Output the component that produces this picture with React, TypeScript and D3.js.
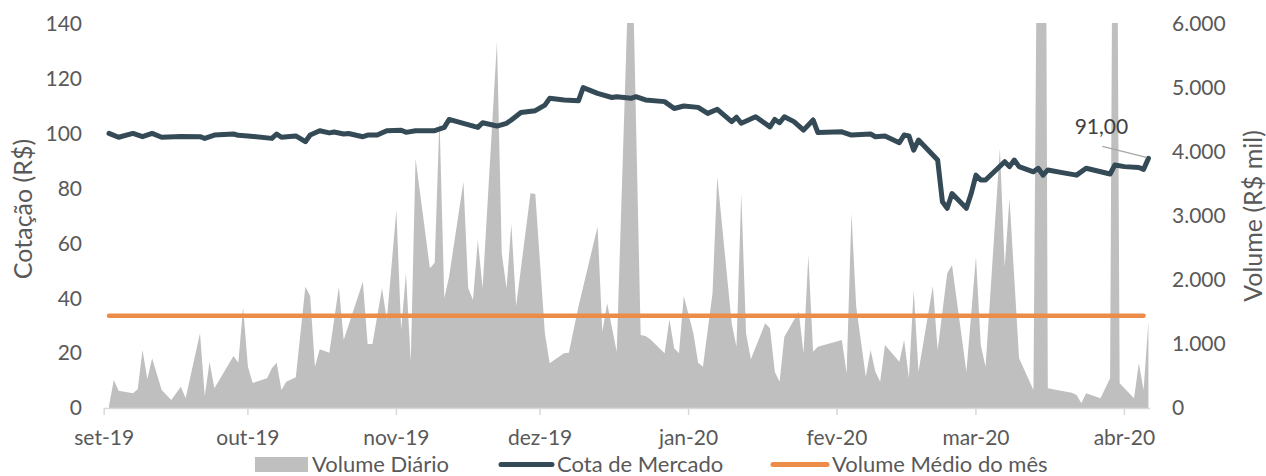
import * as d3 from "d3";

// Cota de Mercado (R$)
const priceDates = [
  "2019-09-02", "2019-09-04", "2019-09-07", "2019-09-09", "2019-09-11", "2019-09-13", "2019-09-17", "2019-09-21", "2019-09-22", "2019-09-24", "2019-09-28", "2019-09-29",
  "2019-10-01", "2019-10-06", "2019-10-07", "2019-10-08", "2019-10-11", "2019-10-13", "2019-10-14", "2019-10-16", "2019-10-18", "2019-10-19", "2019-10-21", "2019-10-22", "2019-10-25", "2019-10-26", "2019-10-28", "2019-10-30",
  "2019-11-02", "2019-11-03", "2019-11-05", "2019-11-09", "2019-11-11", "2019-11-12", "2019-11-15", "2019-11-18", "2019-11-19", "2019-11-22", "2019-11-24", "2019-11-25", "2019-11-27", "2019-11-30",
  "2019-12-02", "2019-12-03", "2019-12-06", "2019-12-09", "2019-12-10", "2019-12-13", "2019-12-16", "2019-12-17", "2019-12-20", "2019-12-21", "2019-12-23", "2019-12-27", "2019-12-29", "2019-12-31",
  "2020-01-03", "2020-01-05", "2020-01-07", "2020-01-10", "2020-01-11", "2020-01-12", "2020-01-15", "2020-01-18", "2020-01-19", "2020-01-20", "2020-01-21", "2020-01-23", "2020-01-25", "2020-01-27", "2020-01-28",
  "2020-02-02", "2020-02-04", "2020-02-08", "2020-02-09", "2020-02-11", "2020-02-14", "2020-02-15", "2020-02-16", "2020-02-17", "2020-02-18", "2020-02-22", "2020-02-23", "2020-02-24", "2020-02-25", "2020-02-28", "2020-02-29",
  "2020-03-01", "2020-03-02", "2020-03-03", "2020-03-07", "2020-03-08", "2020-03-09", "2020-03-10", "2020-03-13", "2020-03-14", "2020-03-15", "2020-03-16", "2020-03-19", "2020-03-22", "2020-03-24", "2020-03-29", "2020-03-30",
  "2020-04-01", "2020-04-04", "2020-04-05", "2020-04-06",
];
const priceValues = [
  100.1, 98.7, 100.1, 98.9, 100.1, 98.7, 99.0, 98.9, 98.3, 99.5, 99.9, 99.4,
  99.2, 98.3, 99.9, 98.7, 99.2, 97.1, 99.5, 101.1, 100.3, 100.6, 99.9, 100.1, 98.9, 99.5, 99.5, 101.1,
  101.3, 100.5, 101.1, 101.1, 102.3, 105.2, 103.8, 102.3, 104.0, 102.8, 103.8, 105.0, 107.7, 108.4,
  110.4, 112.9, 112.3, 112.0, 116.8, 114.7, 113.2, 113.5, 112.9, 113.5, 112.3, 111.7, 109.2, 110.1,
  109.6, 107.4, 108.9, 104.4, 106.0, 103.8, 106.2, 102.5, 105.2, 104.0, 106.2, 104.4, 101.3, 105.0, 100.4,
  100.7, 99.5, 99.9, 98.9, 99.2, 96.7, 99.5, 99.2, 94.0, 97.7, 90.4, 75.2, 72.8, 78.2, 72.8, 78.2,
  84.9, 83.1, 83.1, 89.8, 88.0, 90.4, 88.0, 86.1, 87.4, 84.9, 86.8, 85.8, 84.9, 87.4, 85.3, 88.6,
  88.0, 87.7, 87.0, 91.0,
];

// Volume Diário (R$ mil)
const volumeDates = [
  "2019-09-02", "2019-09-03", "2019-09-04", "2019-09-07", "2019-09-08", "2019-09-09", "2019-09-10", "2019-09-11", "2019-09-13", "2019-09-15", "2019-09-17", "2019-09-18", "2019-09-21", "2019-09-22", "2019-09-23", "2019-09-24", "2019-09-28", "2019-09-29", "2019-09-30",
  "2019-10-01", "2019-10-02", "2019-10-05", "2019-10-06", "2019-10-07", "2019-10-08", "2019-10-09", "2019-10-11", "2019-10-13", "2019-10-14", "2019-10-15", "2019-10-16", "2019-10-18", "2019-10-20", "2019-10-21", "2019-10-25", "2019-10-26", "2019-10-27", "2019-10-29", "2019-10-30",
  "2019-11-01", "2019-11-02", "2019-11-03", "2019-11-04", "2019-11-05", "2019-11-08", "2019-11-09", "2019-11-10", "2019-11-11", "2019-11-12", "2019-11-15", "2019-11-16", "2019-11-17", "2019-11-18", "2019-11-19", "2019-11-22", "2019-11-23", "2019-11-24", "2019-11-25", "2019-11-26", "2019-11-29", "2019-11-30",
  "2019-12-02", "2019-12-03", "2019-12-06", "2019-12-07", "2019-12-09", "2019-12-13", "2019-12-14", "2019-12-15", "2019-12-17", "2019-12-20", "2019-12-22", "2019-12-23", "2019-12-24", "2019-12-27", "2019-12-28", "2019-12-29", "2019-12-30", "2019-12-31",
  "2020-01-02", "2020-01-03", "2020-01-04", "2020-01-06", "2020-01-07", "2020-01-10", "2020-01-11", "2020-01-12", "2020-01-13", "2020-01-14", "2020-01-17", "2020-01-18", "2020-01-19", "2020-01-20", "2020-01-21", "2020-01-24", "2020-01-25", "2020-01-26", "2020-01-27", "2020-01-28",
  "2020-02-02", "2020-02-03", "2020-02-04", "2020-02-05", "2020-02-07", "2020-02-08", "2020-02-09", "2020-02-10", "2020-02-11", "2020-02-14", "2020-02-15", "2020-02-16", "2020-02-17", "2020-02-18", "2020-02-21", "2020-02-22", "2020-02-24", "2020-02-25", "2020-02-28",
  "2020-03-01", "2020-03-02", "2020-03-03", "2020-03-06", "2020-03-07", "2020-03-08", "2020-03-10", "2020-03-13", "2020-03-15", "2020-03-16", "2020-03-21", "2020-03-22", "2020-03-23", "2020-03-24", "2020-03-27", "2020-03-29", "2020-03-30", "2020-03-31",
  "2020-04-03", "2020-04-04", "2020-04-05", "2020-04-06",
];
const volumeValues = [
  30, 437, 270, 229, 292, 906, 448, 776, 281, 125, 333, 151, 1167, 187, 724, 307, 812, 708, 1573,
  650, 390, 464, 620, 708, 281, 411, 479, 1896, 1750, 646, 917, 865, 1896, 1062, 1974, 1000, 1000, 1870, 1375,
  3094, 1219, 2104, 724, 3900, 2182, 2271, 4526, 1713, 2052, 3536, 1870, 1687, 2625, 1870, 5724, 2417, 1870, 2875, 1594, 3354, 3343,
  1167, 698, 854, 865, 1583, 2833, 1193, 1635, 880, 8000, 1141, 1125, 1073, 854, 1385, 932, 854, 1750,
  1167, 708, 646, 1792, 3614, 1323, 958, 3354, 1167, 760, 1323, 1245, 568, 411, 1115, 1505, 854, 2391, 880, 958,
  1062, 542, 3041, 1583, 490, 906, 568, 411, 984, 724, 1062, 464, 1844, 568, 1906, 906, 2104, 2234, 568,
  2364, 984, 646, 4057, 2208, 3276, 776, 281, 20000, 307, 240, 203, 73, 229, 151, 463, 15000, 385,
  151, 698, 281, 1349,
];

// Volume Médio do mês (R$ mil)
const averageVolume = 1440;
const lastPriceLabel = "91,00";

const monthTicks = ["2019-09-01", "2019-10-01", "2019-11-01", "2019-12-01", "2020-01-01", "2020-02-01", "2020-03-01", "2020-04-01"];
const monthLabels = ["set-19", "out-19", "nov-19", "dez-19", "jan-20", "fev-20", "mar-20", "abr-20"];
const priceTicks = [0, 20, 40, 60, 80, 100, 120, 140];
const volumeTicks = [0, 1000, 2000, 3000, 4000, 5000, 6000];

const legendItems = ["Volume Diário", "Cota de Mercado", "Volume Médio do mês"];

const W = 1266;
const H = 476;
const FONT = "Lato, 'Open Sans', sans-serif";
const TXT = "#595959";
const GRAY = "#BFBFBF";
const DARK = "#344A56";
const ORANGE = "#ED8B48";

const parse = d3.utcParse("%Y-%m-%d");

export default function App() {
  const x = d3
    .scaleUtc()
    .domain([parse("2019-09-01")!, parse("2020-04-06")!])
    .range([104.2, 1148.4]);
  const yLeft = d3.scaleLinear().domain([0, 140]).range([408, 24]);
  const yRight = d3.scaleLinear().domain([0, 6000]).range([408, 24]);

  const price = priceDates.map((d, i) => ({ date: parse(d)!, value: priceValues[i] }));
  const volume = volumeDates.map((d, i) => ({ date: parse(d)!, value: volumeValues[i] }));

  const area = d3
    .area<{ date: Date; value: number }>()
    .x(d => x(d.date))
    .y0(yRight(0))
    .y1(d => yRight(d.value));

  const line = d3
    .line<{ date: Date; value: number }>()
    .x(d => x(d.date))
    .y(d => yLeft(d.value));

  const fmtVol = (v: number) => d3.format(",")(v).replace(/,/g, ".");

  const last = price[price.length - 1];
  const lx = x(last.date);
  const ly = yLeft(last.value);

  const avgStart = x(price[0].date);
  const avgEnd = x(price[price.length - 2].date);

  return (
    <svg width={W} height={H} style={{ position: "absolute", left: 0, top: 0, background: "#fff" }} fontFamily={FONT}>
      <defs>
        <clipPath id="plot">
          <rect x={100} y={23} width={1060} height={386} />
        </clipPath>
      </defs>

      {/* volume area */}
      <path d={area(volume) ?? ""} fill={GRAY} clipPath="url(#plot)" />

      {/* x axis */}
      <line x1={104} x2={1150} y1={408.5} y2={408.5} stroke="#D9D9D9" strokeWidth={1.5} />
      {monthTicks.map((t, i) => {
        const xx = x(parse(t)!);
        return (
          <g key={t}>
            <line x1={xx} x2={xx} y1={408} y2={415} stroke="#D9D9D9" strokeWidth={1.5} />
            <text x={xx} y={445} textAnchor="middle" fontSize={21} fill={TXT}>
              {monthLabels[i]}
            </text>
          </g>
        );
      })}

      {/* average volume */}
      <line
        x1={avgStart}
        x2={avgEnd}
        y1={yRight(averageVolume)}
        y2={yRight(averageVolume)}
        stroke={ORANGE}
        strokeWidth={4.5}
        strokeLinecap="round"
      />

      {/* price line */}
      <path
        d={line(price) ?? ""}
        fill="none"
        stroke={DARK}
        strokeWidth={5}
        strokeLinejoin="round"
        strokeLinecap="round"
      />

      {/* last value label */}
      <line x1={lx - 46} y1={ly - 12} x2={lx - 2} y2={ly - 1} stroke="#A6A6A6" strokeWidth={1.2} />
      <text x={lx - 47} y={ly - 24} textAnchor="middle" fontSize={21} fill="#404040">
        {lastPriceLabel}
      </text>

      {/* left axis */}
      {priceTicks.map(t => (
        <text key={t} x={82} y={yLeft(t)} dy="0.35em" textAnchor="end" fontSize={21} fill={TXT}>
          {t}
        </text>
      ))}
      <text
        transform={`translate(23, 209) rotate(-90)`}
        textAnchor="middle"
        dy="0.35em"
        fontSize={25}
        fill={TXT}
      >
        Cotação (R$)
      </text>

      {/* right axis */}
      {volumeTicks.map(t => (
        <text key={t} x={1172} y={yRight(t)} dy="0.35em" textAnchor="start" fontSize={21} fill={TXT}>
          {fmtVol(t)}
        </text>
      ))}
      <text
        transform={`translate(1253, 216) rotate(-90)`}
        textAnchor="middle"
        dy="0.35em"
        fontSize={25}
        fill={TXT}
      >
        Volume (R$ mil)
      </text>

      {/* legend */}
      <g fontSize={22} fill={TXT}>
        <rect x={255} y={457} width={53} height={15} fill={GRAY} />
        <text x={312} y={471.5}>{legendItems[0]}</text>
        <line x1={501} x2={552} y1={464.5} y2={464.5} stroke={DARK} strokeWidth={5} strokeLinecap="round" />
        <text x={557} y={471.5}>{legendItems[1]}</text>
        <line x1={773} x2={827} y1={464.5} y2={464.5} stroke={ORANGE} strokeWidth={5} strokeLinecap="round" />
        <text x={832} y={471.5}>{legendItems[2]}</text>
      </g>
    </svg>
  );
}
